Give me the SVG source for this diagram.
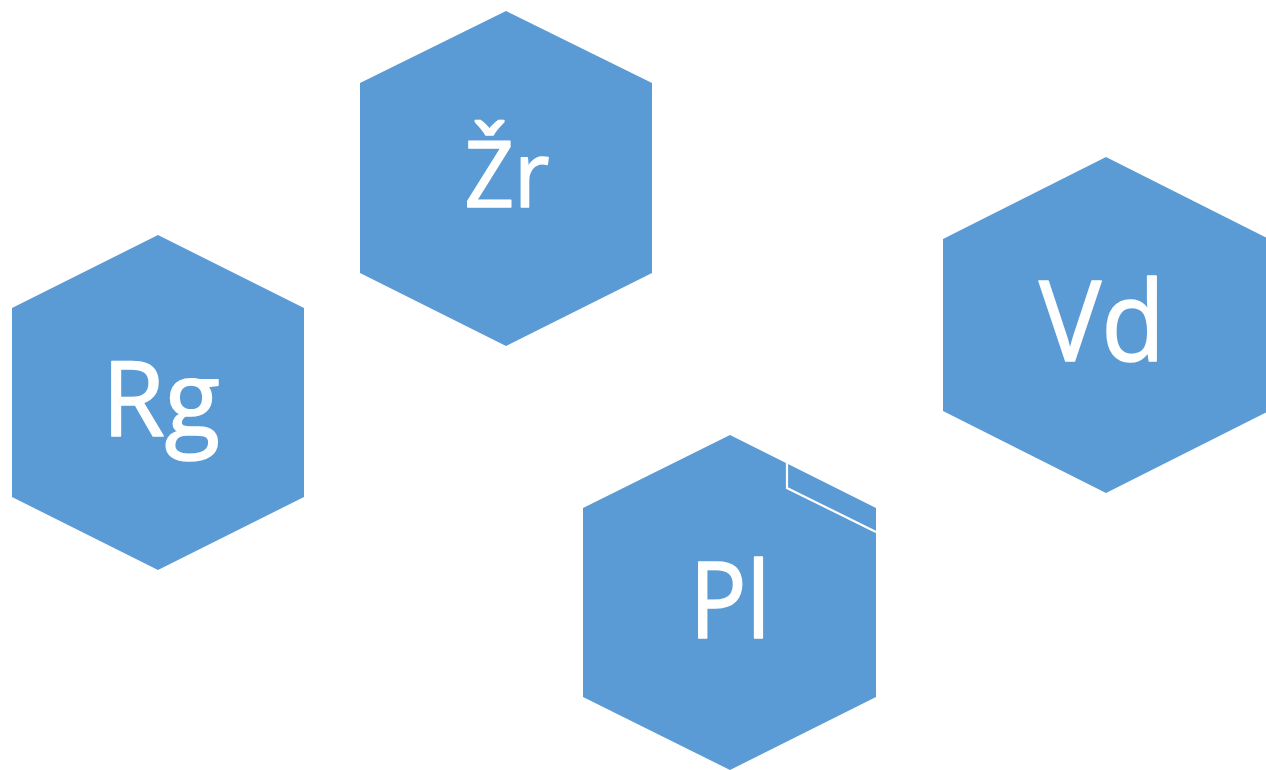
<svg xmlns="http://www.w3.org/2000/svg" width="1266" height="770" viewBox="0 0 1266 770">
<style>
.hex{fill:#5B9BD5;}
.lbl{fill:#FFFFFF;stroke:#FFFFFF;stroke-width:1.6;stroke-linejoin:round;font-family:"Open Sans","Noto Sans",sans-serif;text-anchor:middle;}
</style>
<rect width="1266" height="770" fill="#FFFFFF"/>
<g id="node-zr">
<polygon class="hex" points="506,11 652,83 652,273 506,346 360,273 360,83"/>
<text class="lbl" x="507" y="207" font-size="92" textLength="85" lengthAdjust="spacingAndGlyphs">Žr</text>
</g>
<g id="node-rg">
<polygon class="hex" points="158,235 304,308 304,497 158,570 12,497 12,308"/>
<text class="lbl" x="161" y="436" font-size="105" textLength="118" lengthAdjust="spacingAndGlyphs">Rg</text>
</g>
<g id="node-vd">
<polygon class="hex" points="1106,157 1269,239 1269,411 1106,493 943,411 943,239"/>
<text class="lbl" x="1102" y="361" font-size="112" textLength="126" lengthAdjust="spacingAndGlyphs">Vd</text>
</g>
<g id="node-pl">
<polygon class="hex" points="730,435 876,508 876,697 730,770 583,697 583,508"/>
<polyline points="787,463 787,488 876,532" fill="none" stroke="#FFFFFF" stroke-width="2.2"/>
<text class="lbl" x="730" y="638" font-size="107" textLength="81" lengthAdjust="spacingAndGlyphs">Pl</text>
</g>
<g id="connectors"></g>
</svg>
